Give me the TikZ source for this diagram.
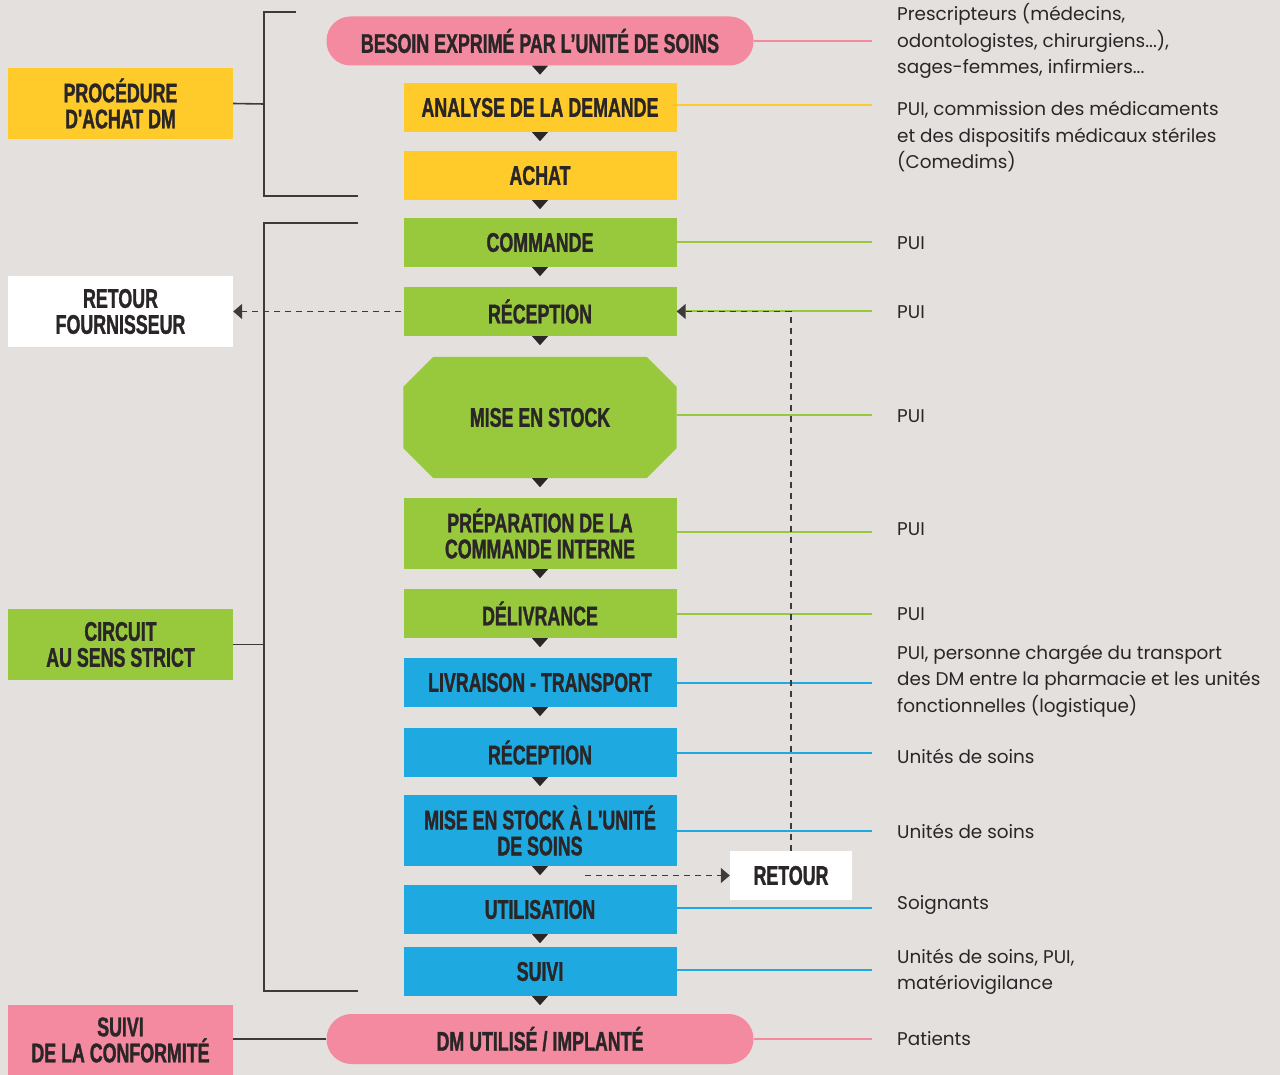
\documentclass[tikz,border=0pt]{standalone}
\usepackage{fontspec}
\setmainfont{Poppins}
\newfontfamily\cond[FakeStretch=0.66, BoldFeatures={FakeBold=1.2}]{Liberation Sans}
\usetikzlibrary{arrows.meta}
\definecolor{bg}{HTML}{E4E0DD}
\definecolor{pk}{HTML}{F48AA0}
\definecolor{yl}{HTML}{FFCB2B}
\definecolor{gn}{HTML}{98C93D}
\definecolor{bl}{HTML}{1EA9E0}
\definecolor{ink}{HTML}{2A2526}
\definecolor{brk}{HTML}{3C3A3A}
\tikzset{
  lab/.style={font=\cond\bfseries\fontsize{27}{27}\selectfont, text=ink, align=center, inner sep=0pt},
  stepbox/.style={lab, minimum width=273pt, minimum height=49pt},
  pill/.style={lab, minimum width=427pt, minimum height=49pt, rounded corners=24pt},
  side/.style={lab, minimum width=225pt, minimum height=71pt},
  info/.style={font=\fontsize{18.4}{26.5}\selectfont, text=ink, anchor=west, align=left, inner sep=0pt},
  rline/.style={line width=2pt, shorten >=25pt},
  brack/.style={line width=1.6pt, draw=brk},
  dsh/.style={line width=1.5pt, draw=brk, dash pattern=on 6pt off 5pt},
  tip/.style={-{Triangle[width=15pt,length=9pt]}}
}
\newcommand\steptri[1]{\fill[ink] (#1.south) ++(-8,0) -- ++(16,0) -- ++(-8,9) -- cycle;}
\begin{document}
\begin{tikzpicture}[x=1pt,y=-1pt]
\fill[bg] (0,0) rectangle (1280,1075);
\useasboundingbox (0,0) rectangle (1280,1075);

% main column
\node[pill, fill=pk] (besoin) at (540,41) {BESOIN EXPRIMÉ PAR L’UNITÉ DE SOINS};
\node[stepbox, fill=yl] (analyse) at (540,107.5) {ANALYSE DE LA DEMANDE};
\node[stepbox, fill=yl] (achat) at (540,175.5) {ACHAT};
\node[stepbox, fill=gn] (commande) at (540,242.5) {COMMANDE};
\node[stepbox, fill=gn] (recep1) at (540,311.5) {RÉCEPTION};
\node[stepbox, minimum height=121pt] (stock) at (540,417.5) {};
\fill[gn] ([xshift=30pt]stock.north west) -- ([xshift=-30pt]stock.north east) -- ([yshift=-30pt]stock.north east)
  -- ([yshift=30pt]stock.south east) -- ([xshift=-30pt]stock.south east) -- ([xshift=30pt]stock.south west)
  -- ([yshift=30pt]stock.south west) -- ([yshift=-30pt]stock.north west) -- cycle;
\node[lab] at (stock.center) {MISE EN STOCK};
\node[stepbox, fill=gn, minimum height=71pt] (prep) at (540,533.5) {PRÉPARATION DE LA\\[-1pt]COMMANDE INTERNE};
\node[stepbox, fill=gn] (deliv) at (540,613.5) {DÉLIVRANCE};
\node[stepbox, fill=bl] (livr) at (540,682.5) {LIVRAISON - TRANSPORT};
\node[stepbox, fill=bl] (recep2) at (540,752.5) {RÉCEPTION};
\node[stepbox, fill=bl, minimum height=71pt] (stocku) at (540,830.5) {MISE EN STOCK À L'UNITÉ\\[-1pt]DE SOINS};
\node[stepbox, fill=bl] (util) at (540,909.5) {UTILISATION};
\node[stepbox, fill=bl] (suivi) at (540,971.5) {SUIVI};
\node[pill, fill=pk, minimum height=50pt, rounded corners=25pt] (dm) at (540,1039) {DM UTILISÉ / IMPLANTÉ};

\foreach \n in {besoin,analyse,achat,commande,recep1,stock,prep,deliv,livr,recep2,stocku,util,suivi}{\steptri{\n}}

% left labels
\node[side, fill=yl] (proc) at (120.5,103.5) {PROCÉDURE\\[-1pt]D'ACHAT DM};
\node[side, fill=white] (retf) at (120.5,311.5) {RETOUR\\[-1pt]FOURNISSEUR};
\node[side, fill=gn] (circ) at (120.5,644.5) {CIRCUIT\\[-1pt]AU SENS STRICT};
\node[side, fill=pk, minimum height=70pt] (suivic) at (120.5,1040) {SUIVI\\[-1pt]DE LA CONFORMITÉ};
\node[lab, fill=white, minimum width=122pt, minimum height=49pt] (retour) at (791,875.5) {RETOUR};

% brackets
\draw[brack] (296,12) -- (264,12) -- (264,196) -- (358,196);
\draw[brack] (proc.east) -- (264,104);
\draw[brack] (358,223) -- (264,223) -- (264,991) -- (358,991);
\draw[brack] (circ.east) -- (264,644.5);
\draw[brack] (suivic.east |- dm.west) -- (dm.west);

% right texts
\node[info] (t1) at (897,41) {Prescripteurs (médecins,\\odontologistes, chirurgiens...),\\sages-femmes, infirmiers...};
\node[info] (t2) at (897,137) {PUI, commission des médicaments\\et des dispositifs médicaux stériles\\(Comedims)};
\node[info] (t3) at (897,243.5) {PUI};
\node[info] (t4) at (897,312.5) {PUI};
\node[info] (t5) at (897,416) {PUI};
\node[info] (t6) at (897,529) {PUI};
\node[info] (t7) at (897,614.5) {PUI};
\node[info] (t8) at (897,681) {PUI, personne chargée du transport\\des DM entre la pharmacie et les unités\\fonctionnelles (logistique)};
\node[info] (t9) at (897,756) {Unités de soins};
\node[info] (t10) at (897,831) {Unités de soins};
\node[info] (t11) at (897,905) {Soignants};
\node[info] (t12) at (897,972) {Unités de soins, PUI,\\matériovigilance};
\node[info] (t13) at (897,1039) {Patients};

\draw[rline, pk] (besoin.east) -- (besoin.east -| t1.west);
\draw[rline, yl] ([yshift=2pt]analyse.east) -- ([yshift=2pt]analyse.east -| t2.west);
\draw[rline, gn] (commande.east) -- (commande.east -| t3.west);
\draw[rline, gn] (recep1.east) -- (recep1.east -| t4.west);
\draw[rline, gn] ([yshift=3pt]stock.east) -- ([yshift=3pt]stock.east -| t5.west);
\draw[rline, gn] ([yshift=2pt]prep.east) -- ([yshift=2pt]prep.east -| t6.west);
\draw[rline, gn] (deliv.east) -- (deliv.east -| t7.west);
\draw[rline, bl] (livr.east) -- (livr.east -| t8.west);
\draw[rline, bl] (recep2.east) -- (recep2.east -| t9.west);
\draw[rline, bl] (stocku.east) -- (stocku.east -| t10.west);
\draw[rline, bl] ([yshift=2pt]util.east) -- ([yshift=2pt]util.east -| t11.west);
\draw[rline, bl] ([yshift=2pt]suivi.east) -- ([yshift=2pt]suivi.east -| t12.west);
\draw[rline, pk] (dm.east) -- (dm.east -| t13.west);

% dashed arrows
\draw[dsh, tip] ([xshift=-2pt]recep1.west) -- (retf.east);
\draw[dsh, tip] (retour.north) -- (retour.north |- recep1.east) -- (recep1.east);
\coordinate (rs) at (585,875.5);
\draw[dsh, tip] (rs) -- (retour.west);
\end{tikzpicture}
\end{document}
